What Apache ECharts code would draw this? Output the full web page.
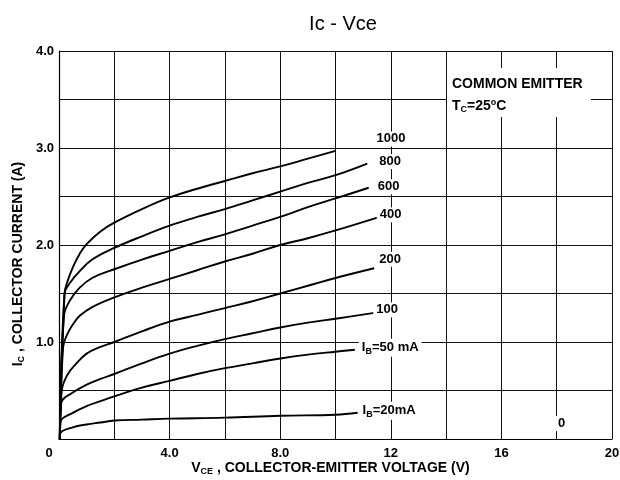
<!DOCTYPE html>
<html>
<head>
<meta charset="utf-8">
<title>Ic - Vce</title>
<script src="https://cdn.jsdelivr.net/npm/echarts@6/dist/echarts.min.js"></script>
<style>
html, body { margin: 0; padding: 0; background: #fff; }
#main { width: 620px; height: 480px; }
</style>
</head>
<body>
<div id="main"></div>
<script>
// Ic - Vce output characteristics, [Vce (V), Ic (A)]
const ib1000 = [[0.03,0],[0.2,1.5],[0.3,1.62],[0.5,1.77],[0.75,1.91],[1,2.01],[1.5,2.14],[2,2.23],[3,2.37],[4,2.49],[5,2.58],[6,2.66],[7,2.74],[8,2.81],[9,2.89],[10,2.97]];
const ib800 = [[0.03,0],[0.2,1.5],[0.4,1.61],[0.75,1.73],[1.2,1.85],[2,1.97],[3,2.09],[4,2.2],[5,2.29],[6,2.37],[7,2.46],[8,2.55],[9,2.64],[10,2.72],[11.15,2.84]];
const ib600 = [[0.03,0],[0.18,1.27],[0.4,1.43],[0.75,1.56],[1.2,1.66],[2,1.75],[3,1.85],[4,1.94],[5,2.03],[6,2.11],[7,2.2],[8,2.29],[9,2.39],[10,2.48],[11.2,2.59]];
const ib400 = [[0.03,0],[0.15,0.95],[0.3,1.08],[0.5,1.18],[0.75,1.27],[1.2,1.36],[2,1.46],[3,1.56],[4,1.65],[5,1.74],[6,1.83],[7,1.91],[8,2.0],[9,2.07],[10,2.15],[11.6,2.29]];
const ib200 = [[0.03,0],[0.1,0.5],[0.3,0.66],[0.6,0.77],[1,0.88],[1.5,0.95],[2,1.0],[3,1.11],[4,1.21],[5,1.28],[6,1.35],[7,1.42],[8,1.5],[9,1.58],[10,1.66],[11.4,1.76]];
const ib100 = [[0.03,0],[0.08,0.37],[0.5,0.48],[1,0.56],[1.5,0.62],[2,0.67],[3,0.78],[4,0.88],[5,0.96],[6,1.03],[7,1.09],[8,1.15],[9,1.2],[10,1.24],[11.4,1.3]];
const ib50 = [[0.03,0],[0.06,0.18],[0.5,0.27],[1,0.34],[1.5,0.39],[2,0.44],[3,0.53],[4,0.6],[5,0.67],[6,0.73],[7,0.78],[8,0.83],[9,0.87],[10,0.9],[10.7,0.92]];
const ib20 = [[0.03,0],[0.05,0.06],[0.5,0.12],[1,0.15],[1.5,0.17],[2,0.19],[3,0.2],[4,0.21],[6,0.22],[8,0.24],[10,0.25],[10.8,0.27]];

const curveNames = ['1000', '800', '600', '400', '200', '100', '{i|I}{s|B}{t|=50 mA}', '{i|I}{s|B}{t|=20mA}'];
const curves = [ib1000, ib800, ib600, ib400, ib200, ib100, ib50, ib20];
// where each curve label sits relative to the end of its line
const labelOffsets = [[38, -12], [9, -2], [6, -1], [-3, -2], [2, -9], [-1, -3], [4, -2], [2, -2]];

const FONT = 'Arial, "Liberation Sans", sans-serif';
const subRich = {
    i: { fontFamily: FONT, fontWeight: 'bold', fontSize: 13, color: '#000' },
    s: { fontFamily: FONT, fontWeight: 'bold', fontSize: 9, color: '#000', padding: [7, 0, 0, 0] },
    t: { fontFamily: FONT, fontWeight: 'bold', fontSize: 13, color: '#000' }
};
const nameRich = {
    i: Object.assign({}, subRich.i, { fontSize: 14 }),
    s: Object.assign({}, subRich.s, { fontSize: 9 }),
    t: Object.assign({}, subRich.t, { fontSize: 14 })
};

const series = curves.map((data, k) => ({
    name: curveNames[k],
    type: 'line',
    data: data,
    smooth: 0.4,
    showSymbol: false,
    silent: true,
    lineStyle: { color: '#000', width: 1.9 },
    endLabel: {
        show: true,
        formatter: curveNames[k],
        distance: 0,
        offset: labelOffsets[k],
        fontFamily: FONT,
        fontWeight: 'bold',
        fontSize: 13,
        color: '#000',
        backgroundColor: '#fff',
        padding: [1, 3],
        rich: subRich
    }
}));

const chart = echarts.init(document.getElementById('main'));
chart.setOption({
    animation: false,
    backgroundColor: '#fff',
    title: {
        text: 'Ic - Vce',
        left: 338,
        top: 9,
        textAlign: 'center',
        textStyle: { fontFamily: FONT, fontWeight: 'normal', fontSize: 20, color: '#000' }
    },
    grid: { left: 59, right: 8, top: 51, bottom: 41, outerBoundsMode: 'none', containLabel: false },
    xAxis: {
        type: 'value',
        min: 0,
        max: 20,
        interval: 2,
        name: '{i|V}{s|CE}{t| , COLLECTOR-EMITTER VOLTAGE (V)}',
        nameLocation: 'middle',
        nameGap: 21,
        nameMoveOverlap: false,
        nameTextStyle: { rich: nameRich, padding: [0, 10, 0, 0] },
        axisLine: { lineStyle: { color: '#000', width: 1.2 } },
        axisTick: { show: false },
        splitLine: { lineStyle: { color: '#111', width: 1 } },
        axisLabel: {
            margin: 8,
            fontFamily: FONT,
            fontWeight: 'bold',
            fontSize: 13,
            color: '#000',
            showMaxLabel: true,
            formatter: v => {
                if (v === 0) return '{o|0}';
                if (v % 4 !== 0) return '';
                return v < 10 ? v.toFixed(1) : String(v);
            },
            rich: { o: { fontFamily: FONT, fontWeight: 'bold', fontSize: 13, color: '#000', padding: [0, 20, 6, 0] } }
        }
    },
    yAxis: {
        type: 'value',
        min: 0,
        max: 4,
        interval: 0.5,
        name: '{i|I}{s|C}{t| , COLLECTOR CURRENT (A)}',
        nameLocation: 'middle',
        nameGap: 33,
        nameMoveOverlap: false,
        nameTextStyle: { rich: nameRich, padding: [0, 38, 0, 0] },
        axisLine: { lineStyle: { color: '#000', width: 1.2 } },
        axisTick: { show: false },
        splitLine: { lineStyle: { color: '#111', width: 1 } },
        axisLabel: {
            margin: 5,
            fontFamily: FONT,
            fontWeight: 'bold',
            fontSize: 13,
            color: '#000',
            showMaxLabel: true,
            padding: [5, 0, 0, 0],
            formatter: v => (v > 0 && v % 1 === 0) ? v.toFixed(1) : ''
        }
    },
    graphic: [
        { type: 'rect', left: 447, top: 68, shape: { width: 144, height: 49 }, style: { fill: '#fff' }, z: 50 },
        {
            type: 'text', left: 452, top: 77, z: 51,
            style: { text: 'COMMON EMITTER', font: 'bold 14px ' + FONT, fill: '#000' }
        },
        {
            type: 'text', left: 452, top: 98, z: 51,
            style: {
                text: '{t|T}{s|C}{t|=25}{d|o}{t|C}',
                rich: {
                    t: Object.assign({}, subRich.t, { fontSize: 14 }),
                    s: subRich.s,
                    d: { fontFamily: FONT, fontWeight: 'bold', fontSize: 9, color: '#000', padding: [0, 0, 8, 0] }
                }
            }
        },
        {
            type: 'text', left: 556, top: 416, z: 51,
            style: { text: '0', font: 'bold 13px ' + FONT, fill: '#000', backgroundColor: '#fff', padding: [1, 2] }
        }
    ],
    series: series
});
</script>
</body>
</html>
